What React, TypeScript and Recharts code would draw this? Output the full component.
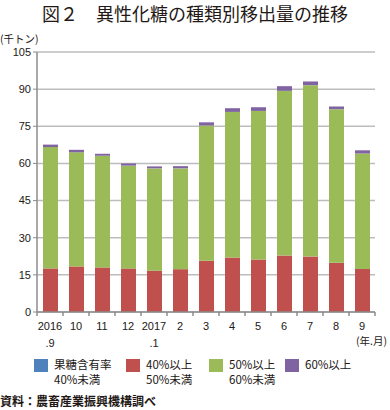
import { BarChart, Bar, XAxis, YAxis, CartesianGrid } from "recharts";

const MONTHS = ["2016\n.9", "10", "11", "12", "2017\n.1", "2", "3", "4", "5", "6", "7", "8", "9"];
const UNDER40 = [0, 0, 0, 0, 0, 0, 0, 0, 0, 0, 0, 0, 0];
const P40_50 = [17.6, 18.4, 18.0, 17.6, 16.7, 17.3, 20.7, 22.0, 21.2, 22.8, 22.4, 19.9, 17.4];
const P50_60 = [49.0, 46.1, 45.1, 41.5, 41.3, 40.7, 54.6, 58.8, 60.0, 66.5, 69.2, 62.0, 46.6];
const OVER60 = [1.0, 1.0, 0.8, 0.9, 0.8, 0.9, 1.3, 1.5, 1.5, 1.9, 1.5, 1.1, 1.3];
const Y_TICKS = [0, 15, 30, 45, 60, 75, 90, 105];

const COLORS = { blue: "#4f81bd", red: "#c0504d", green: "#9bbb59", purple: "#8064a2" };
const FONT = '"Liberation Sans", "Noto Sans CJK JP", sans-serif';
const JP_FONT = '"Noto Sans CJK JP", "Liberation Sans", sans-serif';
const BAND = 26;

const data = MONTHS.map((m, i) => ({
  month: m,
  a: UNDER40[i],
  b: P40_50[i],
  c: P50_60[i],
  d: OVER60[i],
}));

function MonthTick(props: any) {
  const { x, y, payload, index } = props;
  const lines = String(payload.value).split("\n");
  return (
    <g>
      <line x1={x - BAND / 2} x2={x - BAND / 2} y1={y} y2={y + 4} stroke="#8c8c8c" strokeWidth={1.5} />
      {index === MONTHS.length - 1 && (
        <line x1={x + BAND / 2} x2={x + BAND / 2} y1={y} y2={y + 4} stroke="#8c8c8c" strokeWidth={1.5} />
      )}
      {lines.map((l, k) => (
        <text key={k} x={x} y={y + 18 + k * 17} textAnchor="middle" fontSize={11} fill="#231815" fontFamily={FONT}>
          {l}
        </text>
      ))}
    </g>
  );
}

function LegendItem({ color, lines, left }: { color: string; lines: string[]; left: number }) {
  return (
    <div style={{ position: "absolute", left, top: 357, display: "flex", alignItems: "flex-start" }}>
      <span style={{ display: "inline-block", width: 14, height: 13, background: color, marginTop: 2 }} />
      <span style={{ marginLeft: 6, fontSize: 11.5, lineHeight: "15px", color: "#231815", fontFamily: JP_FONT }}>
        {lines.map((l, i) => (
          <div key={i}>{l}</div>
        ))}
      </span>
    </div>
  );
}

export default function App() {
  return (
    <div style={{ position: "absolute", left: 0, top: 0, width: 390, height: 410, background: "#fff", overflow: "hidden" }}>
      <div
        style={{
          position: "absolute",
          left: 0,
          width: 390,
          top: 1,
          textAlign: "center",
          fontSize: 18,
          lineHeight: "24px",
          fontFamily: JP_FONT,
          fontWeight: 400,
          color: "#231815",
        }}
      >
        図２　異性化糖の種類別移出量の推移
      </div>
      <div style={{ position: "absolute", left: 0, top: 31, fontSize: 10.5, fontFamily: JP_FONT, color: "#231815" }}>
        (千トン)
      </div>
      <div style={{ position: "absolute", left: 0, top: 0 }}>
        <BarChart width={390} height={352} data={data} margin={{ top: 52, right: 15, bottom: 0, left: 0 }} barSize={15}>
          <CartesianGrid vertical={false} stroke="#bdbdbd" strokeWidth={1.5} />
          <XAxis
            dataKey="month"
            tick={<MonthTick />}
            tickLine={false}
            tickSize={0}
            tickMargin={0}
            interval={0}
            height={40}
            axisLine={{ stroke: "#8c8c8c", strokeWidth: 1.5 }}
          />
          <YAxis
            domain={[0, 105]}
            ticks={Y_TICKS}
            width={37}
            tick={{ fontSize: 11, fill: "#231815", fontFamily: FONT }}
            tickSize={4}
            tickLine={{ stroke: "#8c8c8c" }}
            axisLine={{ stroke: "#8c8c8c", strokeWidth: 1.5 }}
          />
          <Bar dataKey="a" stackId="s" fill={COLORS.blue} isAnimationActive={false} />
          <Bar dataKey="b" stackId="s" fill={COLORS.red} isAnimationActive={false} />
          <Bar dataKey="c" stackId="s" fill={COLORS.green} isAnimationActive={false} />
          <Bar dataKey="d" stackId="s" fill={COLORS.purple} isAnimationActive={false} />
        </BarChart>
      </div>
      <div
        style={{
          position: "absolute",
          left: 356,
          top: 335,
          fontSize: 10.5,
          lineHeight: "12px",
          fontFamily: JP_FONT,
          color: "#231815",
        }}
      >
        (年.月)
      </div>
      <LegendItem color={COLORS.blue} lines={["果糖含有率", "40%未満"]} left={34} />
      <LegendItem color={COLORS.red} lines={["40%以上", "50%未満"]} left={126} />
      <LegendItem color={COLORS.green} lines={["50%以上", "60%未満"]} left={209} />
      <LegendItem color={COLORS.purple} lines={["60%以上"]} left={285} />
      <div
        style={{
          position: "absolute",
          left: 0,
          top: 392,
          fontSize: 12,
          fontWeight: 700,
          fontFamily: JP_FONT,
          color: "#231815",
        }}
      >
        資料：農畜産業振興機構調べ
      </div>
    </div>
  );
}
